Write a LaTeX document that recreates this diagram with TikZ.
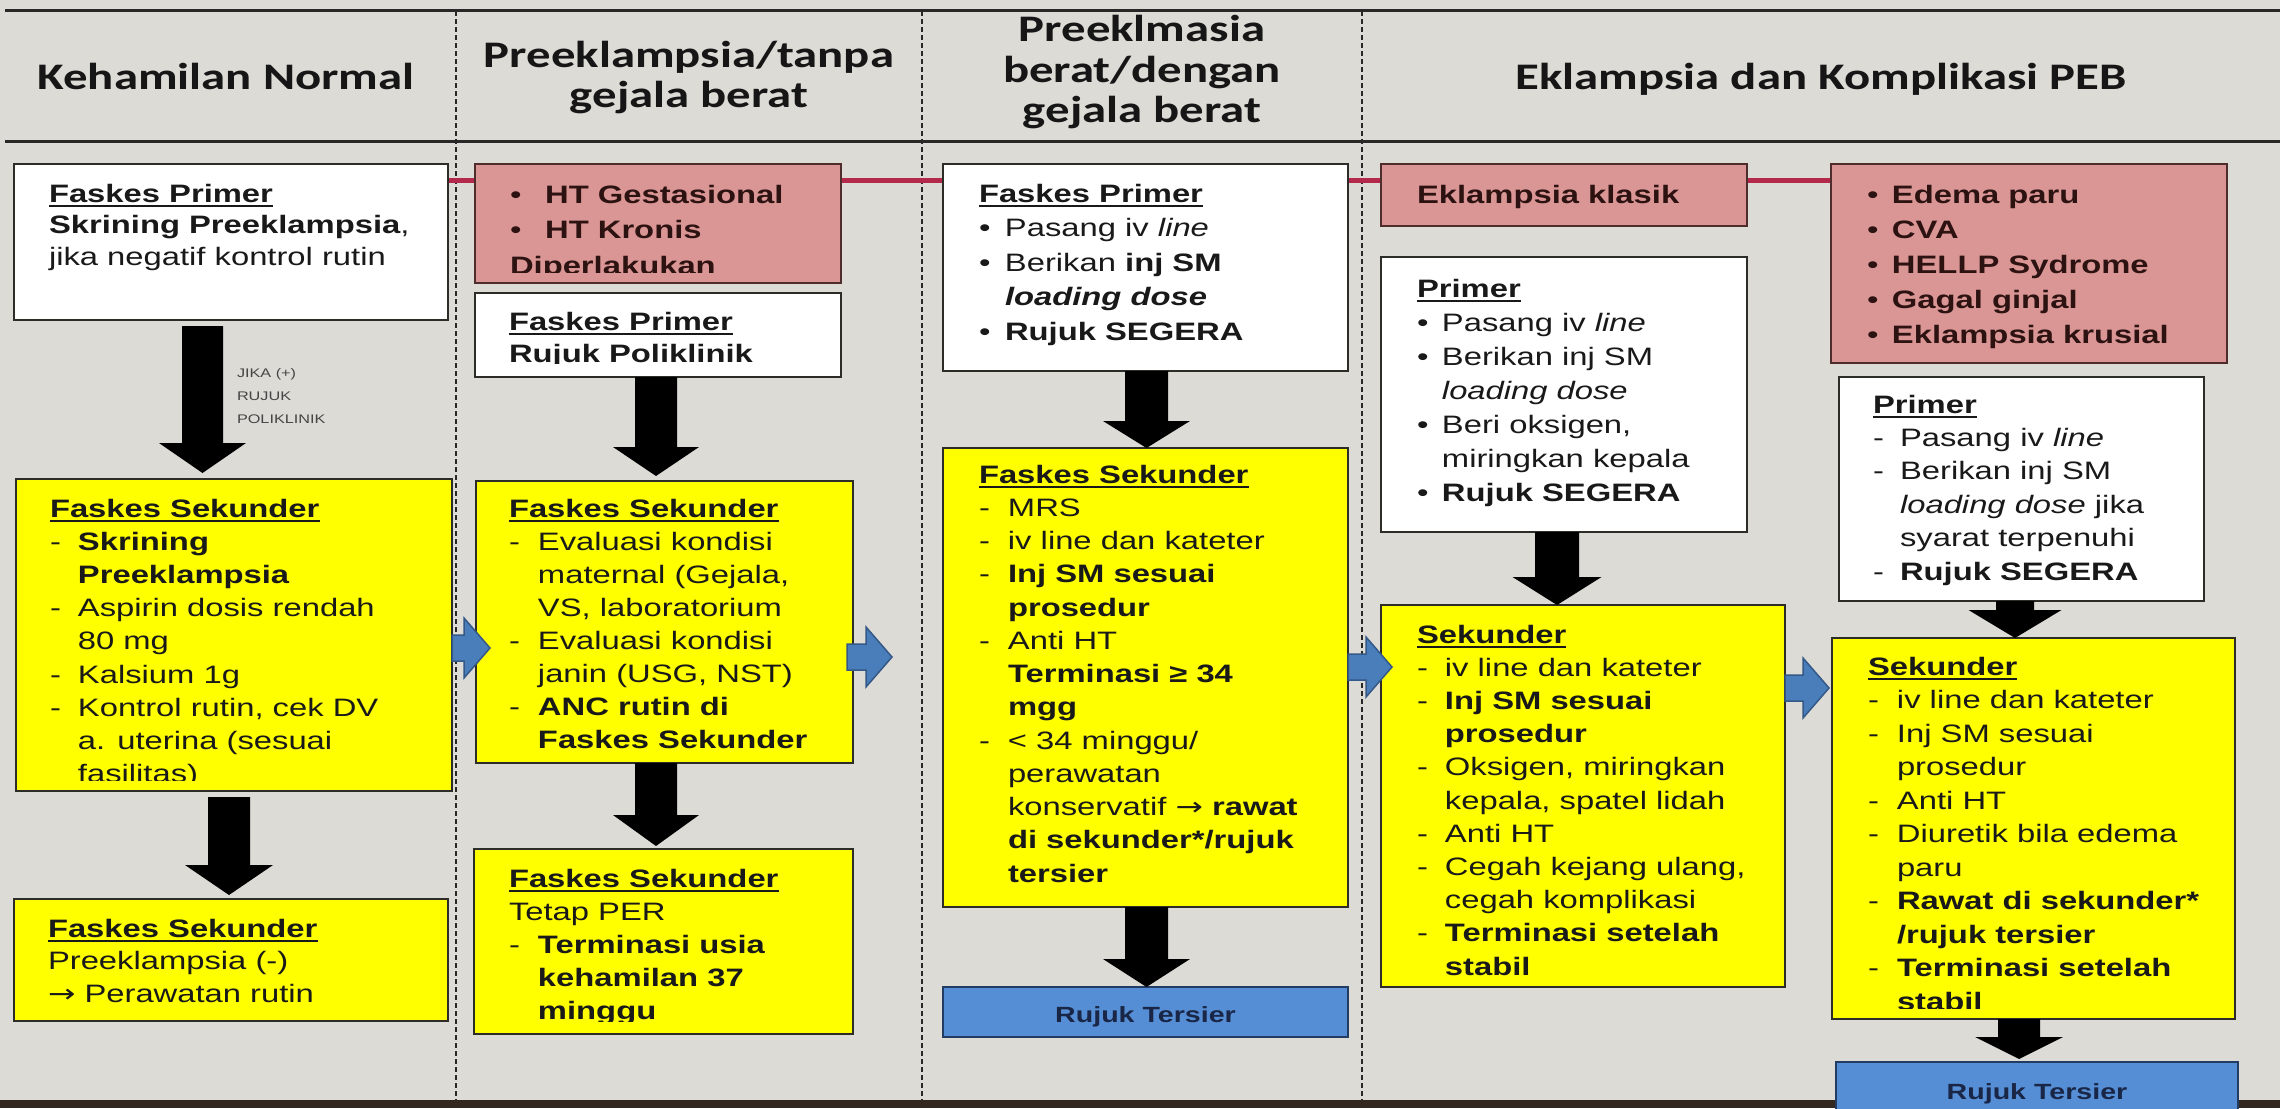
\documentclass[tikz,border=0pt]{standalone}
\usepackage{fontspec}
\setmainfont{Liberation Sans}
\newfontfamily\hdrfont{Carlito}
\newfontfamily\symf{DejaVu Sans}
\usepackage{graphicx}
\usetikzlibrary{calc}
\pgfdeclarelayer{back}
\pgfsetlayers{back,main}

\definecolor{bgc}{RGB}{221,219,214}
\definecolor{yel}{RGB}{255,255,0}
\definecolor{pnk}{RGB}{217,150,148}
\definecolor{bluebox}{RGB}{85,142,213}
\definecolor{bluear}{RGB}{74,126,187}
\definecolor{bluedk}{RGB}{52,88,135}
\definecolor{redl}{RGB}{180,40,75}
\definecolor{ink}{RGB}{25,25,25}
\definecolor{pinkink}{RGB}{45,18,18}
\definecolor{navy}{RGB}{25,38,70}
\definecolor{edge}{RGB}{45,45,40}
\definecolor{pinkedge}{RGB}{80,45,45}
\definecolor{navyedge}{RGB}{35,60,100}
\definecolor{linec}{RGB}{40,40,40}
\definecolor{band}{RGB}{50,40,32}
\definecolor{lbl}{RGB}{70,70,70}
\definecolor{hdrink}{RGB}{22,22,22}

\newlength\hng
\newcommand\Dd{\makebox[\hng][l]{-}}
\newcommand\Ii{\hspace*{\hng}}
\newcommand\Bb{\makebox[\hng][l]{\textbullet}}
\newcommand\Arr{{\symf →}}
\newcommand\ulx[1]{\setbox0\hbox{#1}\rlap{\rule[-5pt]{\wd0}{2pt}}\box0}
\newcommand\bodytext[3]{\scalebox{1.3}[1]{\fontsize{25.2}{#1}\selectfont\setlength\hng{#2}\begin{tabular}[t]{@{}l@{}}#3\end{tabular}}}
\newcommand\hb[1]{\scalebox{1.3}[1]{\hdrfont\bfseries\fontsize{37.5}{40.5}\selectfont\begin{tabular}[t]{@{}c@{}}#1\end{tabular}}}
\newcommand\barrow[5]{\fill[black] let \p1=(#1), \p2=(#2) in (\x1-#3,\y1) -- (\x1+#3,\y1) -- (\x1+#3,\y2+#5) -- (\x1+#4,\y2+#5) -- (\x1,\y2) -- (\x1-#4,\y2+#5) -- (\x1-#3,\y2+#5) -- cycle;}
\newcommand\harrow[5]{\filldraw[fill=bluear, draw=bluedk, line width=1.5pt, line join=miter] let \p1=(#1), \p2=(#2) in (\x1,\y1+#3) -- (\x2-#5,\y1+#3) -- (\x2-#5,\y1+#4) -- (\x2,\y1) -- (\x2-#5,\y1-#4) -- (\x2-#5,\y1-#3) -- (\x1,\y1-#3) -- cycle;}

\begin{document}
\begin{tikzpicture}[x=1pt,y=-1pt,
  bxbase/.style={draw=edge, line width=2.5pt, anchor=north west, inner sep=0pt, outer sep=0pt},
  ybx/.style={bxbase, fill=yel},
  wbx/.style={bxbase, fill=white},
  pbx/.style={bxbase, fill=pnk, draw=pinkedge},
  bbx/.style={bxbase, fill=bluebox, draw=navyedge},
  txt/.style={inner sep=0pt, outer sep=0pt, anchor=base west, text=ink},
  ctxt/.style={inner sep=0pt, outer sep=0pt, anchor=base, text=navy},
  hdr/.style={inner sep=0pt, outer sep=0pt, anchor=base, text=hdrink},
  hline/.style={line width=3pt, draw=linec},
  sepline/.style={line width=1.6pt, draw=linec, dash pattern=on 5pt off 3pt},
  redline/.style={line width=5pt, draw=redl},
]
\useasboundingbox (0,0) rectangle (2280,1108);
\begin{pgfonlayer}{back}
\fill[bgc] (0,0) rectangle (2280,1108);
\fill[band] (0,1100) rectangle (2280,1108);
\draw[hline] (5,11) -- (2280,11);
\draw[hline] (5,141) -- (2280,141);
\draw[sepline] (456,11) -- (456,1100);
\draw[sepline] (922,11) -- (922,1100);
\draw[sepline] (1362,11) -- (1362,1100);
\end{pgfonlayer}
\clip (0,0) rectangle (2280,1108);

% headers
\node[hdr] (h1) at (226,89) {\hb{Kehamilan Normal}};
\node[hdr] (h2) at (689,67) {\hb{Preeklampsia/tanpa\\ gejala berat}};
\node[hdr] (h3) at (1142,42) {\hb{Preeklmasia\\ berat/dengan\\ gejala berat}};
\node[hdr] (h4) at (1821,89) {\hb{Eklampsia dan Komplikasi PEB}};

% boxes
\node[wbx, minimum width=434pt, minimum height=156pt] (A) at (14,164) {};
\node[ybx, minimum width=436pt, minimum height=312pt] (B) at (16,479) {};
\node[ybx, minimum width=434pt, minimum height=122pt] (C) at (14,899) {};
\node[pbx, minimum width=366pt, minimum height=119pt] (D) at (475,164) {};
\node[wbx, minimum width=366pt, minimum height=84pt] (E) at (475,293) {};
\node[ybx, minimum width=377pt, minimum height=282pt] (F) at (476,481) {};
\node[ybx, minimum width=379pt, minimum height=185pt] (G) at (474,849) {};
\node[wbx, minimum width=405pt, minimum height=207pt] (H) at (943,164) {};
\node[ybx, minimum width=405pt, minimum height=459pt] (I) at (943,448) {};
\node[bbx, minimum width=405pt, minimum height=50pt] (J) at (943,987) {};
\node[pbx, minimum width=366pt, minimum height=62pt] (K) at (1381,164) {};
\node[wbx, minimum width=366pt, minimum height=275pt] (L) at (1381,257) {};
\node[ybx, minimum width=404pt, minimum height=382pt] (M) at (1381,605) {};
\node[pbx, minimum width=396pt, minimum height=199pt] (N) at (1831,164) {};
\node[wbx, minimum width=365pt, minimum height=224pt] (O) at (1839,377) {};
\node[ybx, minimum width=403pt, minimum height=381pt] (P) at (1832,638) {};
\node[bbx, minimum width=402pt, minimum height=53pt] (Q) at (1836,1062) {};

\begin{pgfonlayer}{back}
\coordinate (r0) at (0,180);
\draw[redline] (A.east |- r0) -- (N.west |- r0);
\end{pgfonlayer}

% texts
\node[txt] (tA) at (49,202) {\bodytext{31.5pt}{0pt}{\ulx{\textbf{Faskes Primer}}\\ \textbf{Skrining Preeklampsia},\\ jika negatif kontrol rutin}};

\begin{scope}
\clip (B.north west) rectangle ($(B.south east)+(0,-11)$);
\node[txt] (tB) at (50,517) {\bodytext{33.2pt}{21.5pt}{\ulx{\textbf{Faskes Sekunder}}\\ \Dd\textbf{Skrining}\\ \Ii\textbf{Preeklampsia}\\ \Dd Aspirin dosis rendah\\ \Ii 80 mg\\ \Dd Kalsium 1g\\ \Dd Kontrol rutin, cek DV\\ \Ii a. uterina (sesuai\\ \Ii fasilitas)}};
\end{scope}

\node[txt] (tC) at (48,937) {\bodytext{32.5pt}{0pt}{\ulx{\textbf{Faskes Sekunder}}\\ Preeklampsia (-)\\ \Arr{} Perawatan rutin}};

\begin{scope}
\clip (D.north west) rectangle ($(D.south east)+(0,-11)$);
\node[txt, text=pinkink] (tD) at (510,203) {\bodytext{35.5pt}{27pt}{\Bb\textbf{HT Gestasional}\\ \Bb\textbf{HT Kronis}\\ \textbf{Diperlakukan}}};
\end{scope}

\begin{scope}
\clip (E.north west) rectangle ($(E.south east)+(0,-14)$);
\node[txt] (tE) at (509,330) {\bodytext{32pt}{0pt}{\ulx{\textbf{Faskes Primer}}\\ \textbf{Rujuk Poliklinik}}};
\end{scope}

\node[txt] (tF) at (509,517) {\bodytext{33pt}{22.3pt}{\ulx{\textbf{Faskes Sekunder}}\\ \Dd Evaluasi kondisi\\ \Ii maternal (Gejala,\\ \Ii VS, laboratorium\\ \Dd Evaluasi kondisi\\ \Ii janin (USG, NST)\\ \Dd\textbf{ANC rutin di}\\ \Ii\textbf{Faskes Sekunder}}};

\begin{scope}
\clip (G.north west) rectangle ($(G.south east)+(0,-13)$);
\node[txt] (tG) at (509,887) {\bodytext{33pt}{22.3pt}{\ulx{\textbf{Faskes Sekunder}}\\ Tetap PER\\ \Dd\textbf{Terminasi usia}\\ \Ii\textbf{kehamilan 37}\\ \Ii\textbf{minggu}}};
\end{scope}

\node[txt] (tH) at (979,202) {\bodytext{34.5pt}{20pt}{\ulx{\textbf{Faskes Primer}}\\ \Bb Pasang iv \textit{line}\\ \Bb Berikan \textbf{inj SM}\\ \Ii\textbf{\textit{loading dose}}\\ \Bb\textbf{Rujuk SEGERA}}};

\node[txt] (tI) at (979,483) {\bodytext{33.25pt}{22.3pt}{\ulx{\textbf{Faskes Sekunder}}\\ \Dd MRS\\ \Dd iv line dan kateter\\ \Dd\textbf{Inj SM sesuai}\\ \Ii\textbf{prosedur}\\ \Dd Anti HT\\ \Ii\textbf{Terminasi ≥ 34}\\ \Ii\textbf{mgg}\\ \Dd < 34 minggu/\\ \Ii perawatan\\ \Ii konservatif \Arr{} \textbf{rawat}\\ \Ii\textbf{di sekunder*/rujuk}\\ \Ii\textbf{tersier}}};

\node[ctxt] (tJ) at (1145.5,1022) {\scalebox{1.3}[1]{\fontsize{22}{26}\selectfont\bfseries Rujuk Tersier}};

\node[txt, text=pinkink] (tK) at (1417,203) {\bodytext{33pt}{0pt}{\textbf{Eklampsia klasik}}};

\node[txt] (tL) at (1417,297) {\bodytext{34pt}{19.2pt}{\ulx{\textbf{Primer}}\\ \Bb Pasang iv \textit{line}\\ \Bb Berikan inj SM\\ \Ii\textit{loading dose}\\ \Bb Beri oksigen,\\ \Ii miringkan kepala\\ \Bb\textbf{Rujuk SEGERA}}};

\node[txt] (tM) at (1417,643) {\bodytext{33.2pt}{21.5pt}{\ulx{\textbf{Sekunder}}\\ \Dd iv line dan kateter\\ \Dd\textbf{Inj SM sesuai}\\ \Ii\textbf{prosedur}\\ \Dd Oksigen, miringkan\\ \Ii kepala, spatel lidah\\ \Dd Anti HT\\ \Dd Cegah kejang ulang,\\ \Ii cegah komplikasi\\ \Dd\textbf{Terminasi setelah}\\ \Ii\textbf{stabil}}};

\node[txt, text=pinkink] (tN) at (1867,203) {\bodytext{35pt}{19.2pt}{\Bb\textbf{Edema paru}\\ \Bb\textbf{CVA}\\ \Bb\textbf{HELLP Sydrome}\\ \Bb\textbf{Gagal ginjal}\\ \Bb\textbf{Eklampsia krusial}}};

\node[txt] (tO) at (1873,413) {\bodytext{33.4pt}{20.8pt}{\ulx{\textbf{Primer}}\\ \Dd Pasang iv \textit{line}\\ \Dd Berikan inj SM\\ \Ii\textit{loading dose} jika\\ \Ii syarat terpenuhi\\ \Dd\textbf{Rujuk SEGERA}}};

\begin{scope}
\clip (P.north west) rectangle ($(P.south east)+(0,-11)$);
\node[txt] (tP) at (1868,675) {\bodytext{33.5pt}{22.3pt}{\ulx{\textbf{Sekunder}}\\ \Dd iv line dan kateter\\ \Dd Inj SM sesuai\\ \Ii prosedur\\ \Dd Anti HT\\ \Dd Diuretik bila edema\\ \Ii paru\\ \Dd\textbf{Rawat di sekunder*}\\ \Ii\textbf{/rujuk tersier}\\ \Dd\textbf{Terminasi setelah}\\ \Ii\textbf{stabil}}};
\end{scope}

\node[ctxt] (tQ) at (2037,1099) {\scalebox{1.3}[1]{\fontsize{22}{26}\selectfont\bfseries Rujuk Tersier}};

\node[txt, text=lbl] (lab) at (237,377) {\scalebox{1.3}[1]{\fontsize{12.5}{23}\selectfont\begin{tabular}[t]{@{}l@{}}JIKA (+)\\ RUJUK\\ POLIKLINIK\end{tabular}}};

% black block arrows
\coordinate (c1) at (202.5,0);
\coordinate (c2) at (229,0);
\coordinate (c3) at (656,0);
\coordinate (c5) at (1146.5,0);
\coordinate (c7) at (1557,0);
\coordinate (c8) at (2015,0);
\coordinate (c9) at (2019,0);
\barrow{$(A.south -| c1)+(0,6)$}{$(B.north -| c1)+(0,-6)$}{20.5pt}{43.5pt}{30pt}
\barrow{$(B.south -| c2)+(0,6)$}{$(C.north -| c2)+(0,-4)$}{21pt}{44pt}{30pt}
\barrow{E.south -| c3}{$(F.north -| c3)+(0,-5)$}{21pt}{43pt}{29pt}
\barrow{F.south -| c3}{$(G.north -| c3)+(0,-3)$}{21pt}{43pt}{31pt}
\barrow{H.south -| c5}{I.north -| c5}{21.5pt}{43.5pt}{27pt}
\barrow{I.south -| c5}{J.north -| c5}{21.5pt}{43.5pt}{28pt}
\barrow{L.south -| c7}{M.north -| c7}{22pt}{44.5pt}{28pt}
\barrow{O.south -| c8}{P.north -| c8}{19pt}{46.5pt}{28pt}
\barrow{P.south -| c9}{$(Q.north -| c9)+(0,-3)$}{21pt}{44pt}{22pt}

% blue block arrows
\coordinate (hy1) at (0,648);
\coordinate (hy2) at (0,657);
\coordinate (hy3) at (0,667);
\coordinate (hy4) at (0,688);
\harrow{B.east |- hy1}{$(F.west |- hy1)+(14,0)$}{13pt}{30pt}{26pt}
\harrow{$(F.east |- hy2)+(-6,0)$}{$(I.west |- hy2)+(-51,0)$}{13pt}{30pt}{26pt}
\harrow{I.east |- hy3}{$(M.west |- hy3)+(11,0)$}{13pt}{30pt}{26pt}
\harrow{M.east |- hy4}{$(P.west |- hy4)+(-3,0)$}{13pt}{30pt}{26pt}
\end{tikzpicture}
\end{document}
